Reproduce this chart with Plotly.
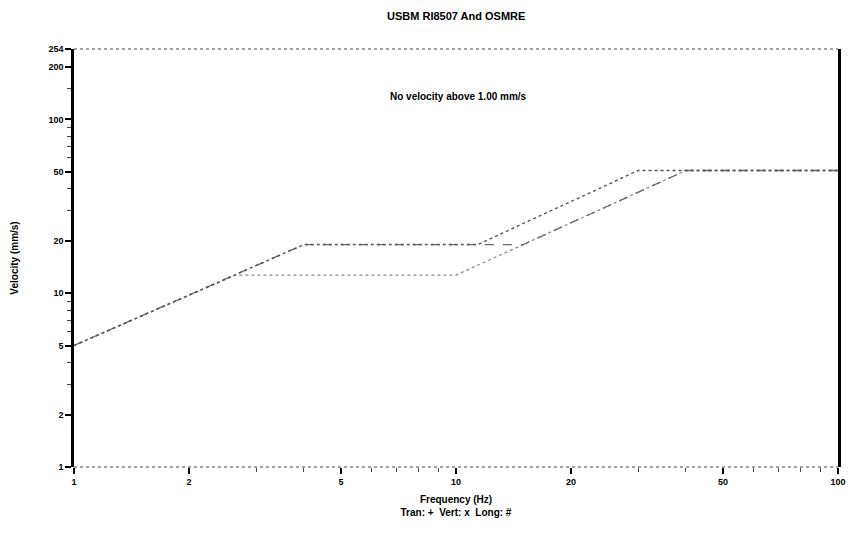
import math
import plotly.graph_objects as go

# Data
osmre_freq = [1, 4, 11.4, 30, 100]
osmre_vel = [5.0, 19.05, 19.05, 50.8, 50.8]

usbm_drywall_freq = [1, 4, 15, 40, 100]
usbm_drywall_vel = [5.0, 19.05, 19.05, 50.8, 50.8]

usbm_plaster_freq = [1, 2.65, 10, 40, 100]
usbm_plaster_vel = [5.0, 12.7, 12.7, 50.8, 50.8]

x_ticks = [1, 2, 5, 10, 20, 50, 100]
x_minor = [3, 4, 6, 7, 8, 9, 30, 40, 60, 70, 80, 90]
y_ticks = [1, 2, 5, 10, 20, 50, 100, 200, 254]
y_minor = [3, 4, 6, 7, 8, 9, 30, 40, 60, 70, 80, 90, 150]

FONT = "Liberation Sans"

fig = go.Figure()
fig.add_trace(go.Scatter(x=usbm_plaster_freq, y=usbm_plaster_vel, mode="lines",
                         line=dict(color="#8a8a8a", width=1.3, dash="dot"), name="USBM plaster"))
fig.add_trace(go.Scatter(x=usbm_drywall_freq, y=usbm_drywall_vel, mode="lines",
                         line=dict(color="#6a6a6a", width=1.3, dash="dash"), name="USBM drywall"))
fig.add_trace(go.Scatter(x=osmre_freq, y=osmre_vel, mode="lines",
                         line=dict(color="#555555", width=1.4, dash="dot"), name="OSMRE"))

fig.update_layout(
    width=864, height=535,
    margin=dict(l=74, r=26, t=49, b=68),
    paper_bgcolor="white", plot_bgcolor="white",
    showlegend=False,
    font=dict(family=FONT, color="black", size=10),
    title=dict(text="<b>USBM RI8507 And OSMRE</b>", x=0.528, xanchor="center",
               y=0.977, yanchor="top", font=dict(size=11, family=FONT)),
)

fig.update_xaxes(
    type="log", range=[0, 2],
    tickvals=x_ticks, ticktext=[f"<b>{v}</b>" for v in x_ticks],
    ticks="outside", ticklen=6, tickcolor="black", tickwidth=1.5,
    minor=dict(tickmode="array", tickvals=x_minor, ticks="outside", ticklen=4,
               tickcolor="#444", tickwidth=1, showgrid=False),
    showgrid=False, zeroline=False,
    showline=False,
    tickfont=dict(size=9, family=FONT),
    title=dict(text="<b>Frequency (Hz)</b><br><b>Tran: +  Vert: x  Long: #</b>",
               font=dict(size=10, family=FONT), standoff=10),
)
fig.update_yaxes(
    type="log", range=[0, math.log10(254)],
    tickvals=y_ticks, ticktext=[f"<b>{v}</b>" for v in y_ticks],
    ticks="outside", ticklen=6, tickcolor="black", tickwidth=1.5,
    minor=dict(tickmode="array", tickvals=y_minor, ticks="outside", ticklen=4,
               tickcolor="#444", tickwidth=1, showgrid=False),
    showgrid=False, zeroline=False,
    showline=True, linecolor="black", linewidth=2.5, mirror=True,
    tickfont=dict(size=9, family=FONT),
    title=dict(text="<b>Velocity (mm/s)</b>", font=dict(size=10, family=FONT), standoff=28),
)

# dotted top and bottom frame lines
for yv in (0, 1):
    fig.add_shape(type="line", xref="paper", yref="paper", x0=0, x1=1, y0=yv, y1=yv,
                  line=dict(color="#444", width=1.2, dash="dot"))

fig.add_annotation(text="<b>No velocity above 1.00 mm/s</b>", xref="paper", yref="paper",
                   x=0.503, y=0.905, showarrow=False, font=dict(size=10, family=FONT))

fig.write_html("out.html")
